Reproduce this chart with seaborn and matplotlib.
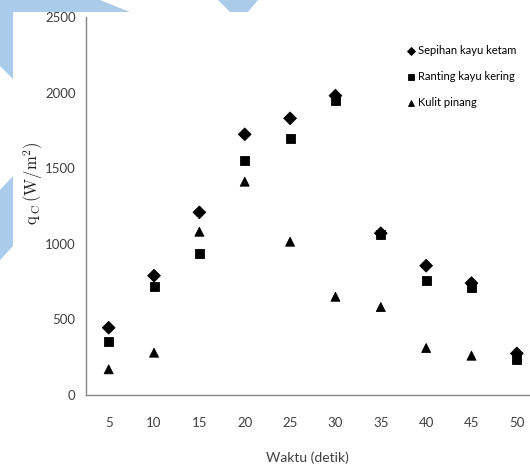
import pandas as pd
import seaborn as sns
import matplotlib.pyplot as plt
from matplotlib.patches import Polygon

# data
waktu = [5, 10, 15, 20, 25, 30, 35, 40, 45, 50]
sepihan = [445, 789, 1208, 1724, 1830, 1980, 1070, 855, 740, 275]
ranting = [357, 716, 937, 1552, 1695, 1950, 1060, 756, 710, 235]
kulit = [170, 280, 1080, 1411, 1014, 650, 582, 311, 260, 250]

nama = ['Sepihan kayu ketam', 'Ranting kayu kering', 'Kulit pinang']
penanda = {'Sepihan kayu ketam': 'D', 'Ranting kayu kering': 's', 'Kulit pinang': '^'}

df = pd.DataFrame({
    'waktu': waktu * 3,
    'qc': sepihan + ranting + kulit,
    'bahan': [nama[0]] * 10 + [nama[1]] * 10 + [nama[2]] * 10,
})

sns.set_style('white')
plt.rcParams['font.family'] = ['Lato', 'DejaVu Sans']
plt.rcParams['mathtext.fontset'] = 'cm'

fig = plt.figure(figsize=(5.3, 4.67), dpi=100)

# watermark biru di latar belakang
biru = '#abcbea'
bentuk = [
    [(0, 0), (100, 0), (130, 12), (13, 12), (13, 79), (0, 66)],
    [(218, 0), (258, 0), (248, 12), (230, 12)],
    [(0, 190), (13, 176), (13, 246), (0, 260)],
]
for b in bentuk:
    pts = [(x / 530, 1 - y / 467) for x, y in b]
    fig.patches.append(Polygon(pts, closed=True, transform=fig.transFigure,
                               facecolor=biru, edgecolor='none', zorder=0))

ax = fig.add_axes([86 / 530, 72 / 467, 444 / 530, 378 / 467])
ax.patch.set_alpha(0)

sns.scatterplot(data=df, x='waktu', y='qc', style='bahan', markers=penanda,
                color='black', edgecolor='black', s=42, linewidth=0.6,
                style_order=nama, ax=ax)

ax.set_xlim(2.5, 51.45)
ax.set_ylim(0, 2500)
ax.set_yticks(range(0, 2501, 500))
ax.set_xticks(waktu)
ax.set_xticks([w - 2.5 for w in waktu], minor=True)

abu = '#868686'
for s in ['top', 'right']:
    ax.spines[s].set_visible(False)
for s in ['left', 'bottom']:
    ax.spines[s].set_color(abu)
    ax.spines[s].set_linewidth(1.0)

ax.tick_params(axis='both', which='both', direction='out', length=4, width=1,
               color=abu, labelsize=9.5, labelcolor='#404040')
ax.tick_params(axis='x', which='major', pad=12)
ax.tick_params(axis='x', which='minor', length=4)

ax.set_xlabel('')
ax.set_ylabel('')
fig.text(307 / 530, 1 - 458 / 467, 'Waktu (detik)', ha='center', va='center',
         fontsize=10, color='#404040')
fig.text(33 / 530, 1 - 183 / 467, r'$\mathrm{q}_{\,\mathrm{C}}\,(\mathrm{W/m^2})$',
         rotation=90, ha='center', va='center', fontsize=12, color='#222222')

ax.legend(loc='upper left', bbox_to_anchor=((401 - 86) / 444, (395 - 41) / 378),
          frameon=False, fontsize=8, handletextpad=0.1, labelspacing=1.35,
          markerscale=0.6, borderaxespad=0, handlelength=1.0, labelcolor='black')

fig.savefig('out.png', dpi=100)
